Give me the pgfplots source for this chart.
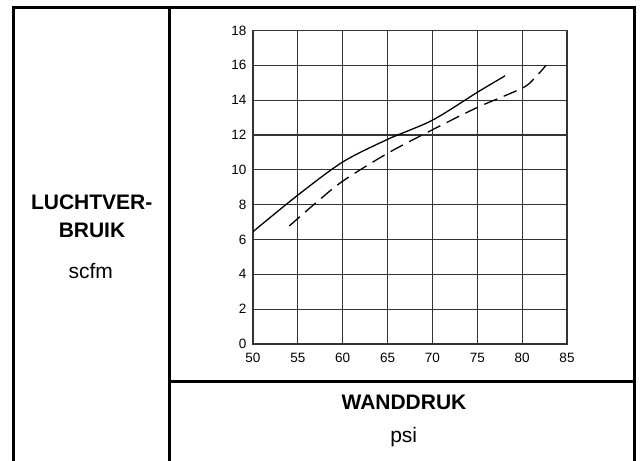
\documentclass[border=0pt]{standalone}
\usepackage{fontspec}
\setmainfont{Liberation Sans}
\usepackage{pgfplots}
\pgfplotsset{compat=1.18}

\begin{document}
\begin{tikzpicture}
\useasboundingbox (0pt,0pt) rectangle (641pt,-461pt);

% frame of the table
\draw[line width=3pt] (13.5pt,-462pt) -- (13.5pt,-7.5pt) -- (634.8pt,-7.5pt) -- (634.8pt,-462pt);
\draw[line width=3pt] (169.3pt,-7.5pt) -- (169.3pt,-462pt);
\draw[line width=3pt] (169.3pt,-381pt) -- (634.8pt,-381pt);

% labels
\node[anchor=base,font=\bfseries\fontsize{21}{21}\selectfont,inner sep=0pt] at (91.7pt,-209pt) {LUCHTVER-};
\node[anchor=base,font=\bfseries\fontsize{21}{21}\selectfont,inner sep=0pt] at (92pt,-237pt) {BRUIK};
\node[anchor=base,font=\fontsize{21}{21}\selectfont,inner sep=0pt] at (90.8pt,-278pt) {scfm};
\node[anchor=base,font=\bfseries\fontsize{21}{21}\selectfont,inner sep=0pt] at (404pt,-409pt) {WANDDRUK};
\node[anchor=base,font=\fontsize{21}{21}\selectfont,inner sep=0pt] at (403.7pt,-442pt) {psi};

\begin{axis}[
    at={(253pt,-344pt)},
    anchor=south west,
    scale only axis,
    width=314pt,
    height=313.5pt,
    xmin=50, xmax=85,
    ymin=0, ymax=18,
    xtick={50,55,...,85},
    ytick={0,2,...,18},
    grid=major,
    major grid style={black!80, line width=1.1pt},
    axis line style={black!80, line width=1.1pt},
    tick style={draw=none},
    tick label style={font=\fontsize{13.5}{13.5}\selectfont},
    xticklabel style={yshift=-6pt},
    yticklabel style={xshift=-3pt},
    /pgf/number format/assume math mode=true,
]
% solid curve
\addplot[black, line width=1.3pt, smooth] coordinates {
    (50,6.45) (55,8.55) (60,10.45) (65,11.75) (70,12.85) (75,14.45) (78.1,15.4)
};
% dashed curve
\addplot[black, line width=1.3pt, smooth, dash pattern=on 14pt off 7pt] coordinates {
    (54.05,6.78) (57,8.1) (60,9.35) (65,10.95) (70,12.3) (75,13.58)
    (80,14.69) (81.4,15.27) (82.66,16.0)
};
\end{axis}
\end{tikzpicture}
\end{document}
